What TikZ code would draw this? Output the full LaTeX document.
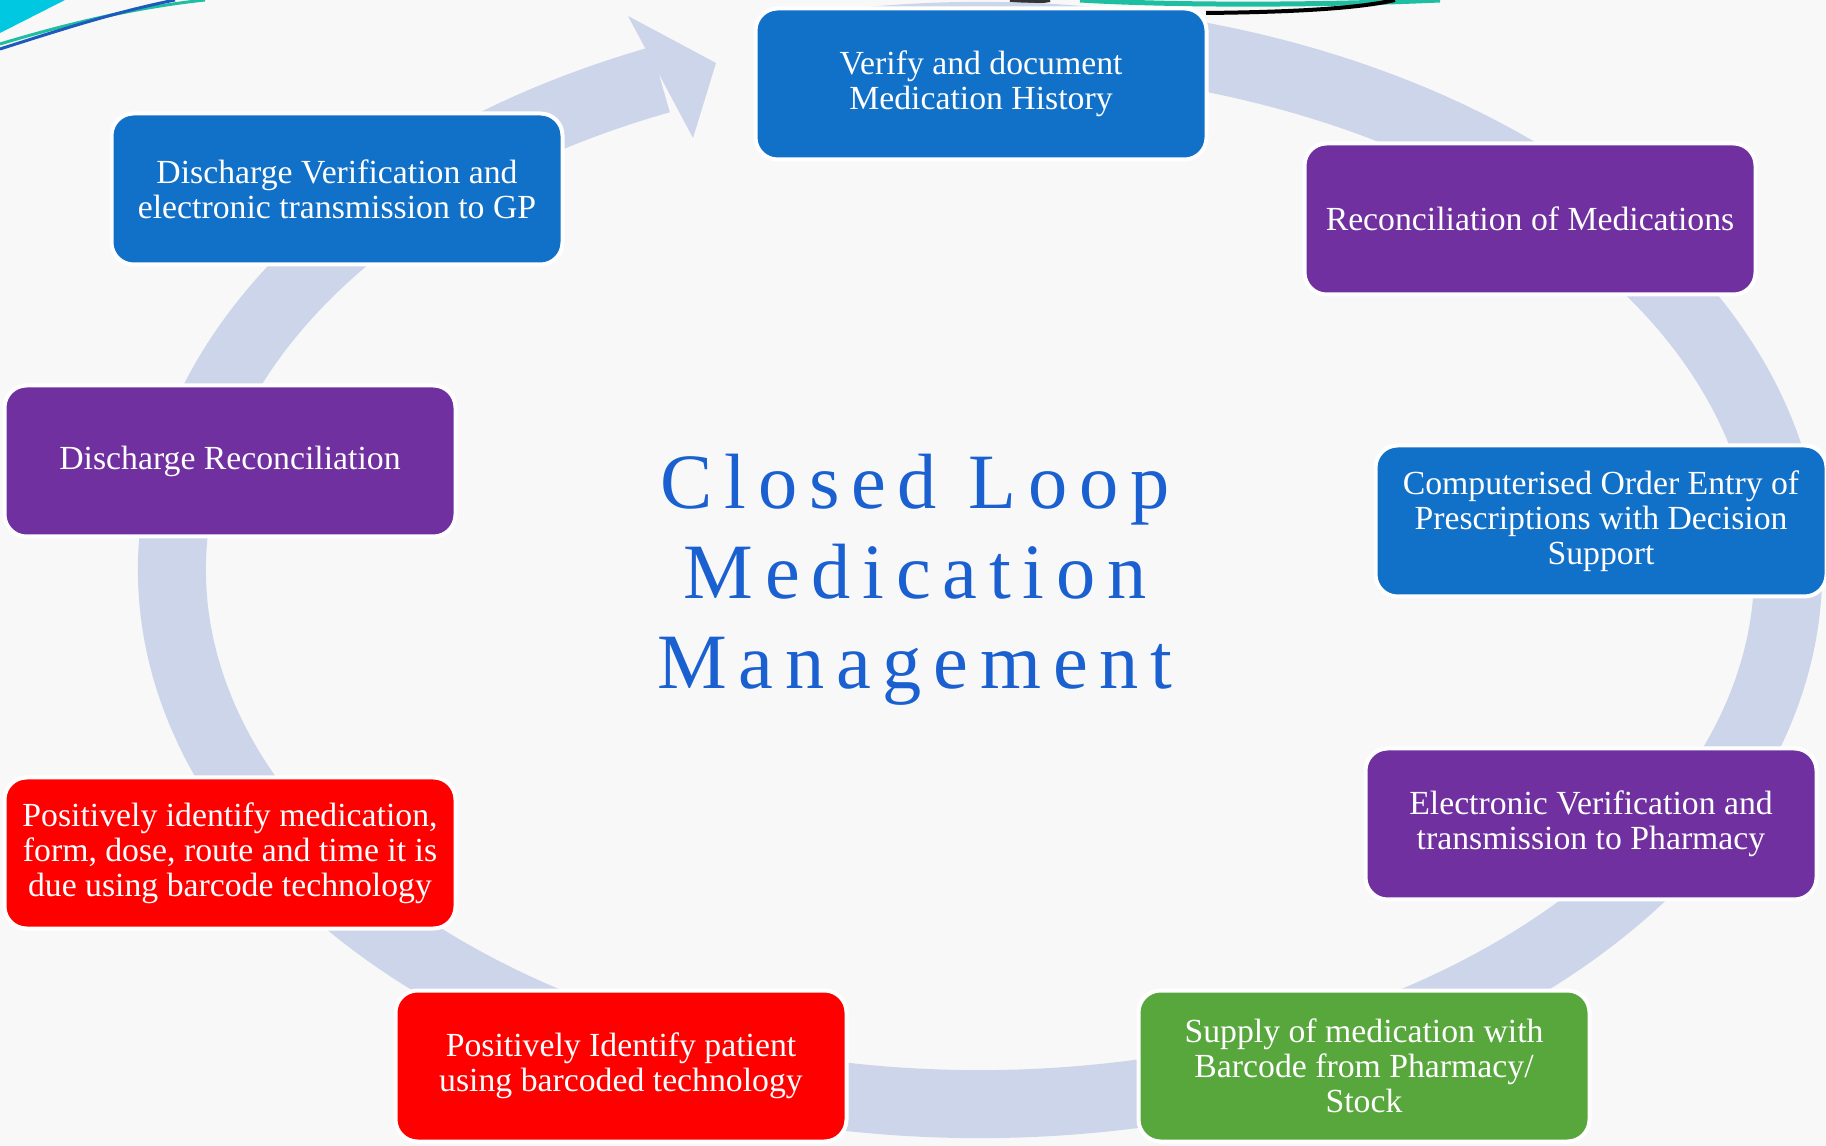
\documentclass[tikz,border=0pt]{standalone}
\usepackage{fontspec}
\setmainfont{Liberation Serif}
\newfontfamily\titlefont[LetterSpace=15]{Liberation Serif}
\usepackage{tikz}

\definecolor{paper}{RGB}{248,248,248}
\definecolor{ringblue}{RGB}{204,213,233}
\definecolor{boxblue}{RGB}{17,112,199}
\definecolor{boxpurple}{RGB}{112,48,160}
\definecolor{boxred}{RGB}{255,0,0}
\definecolor{boxgreen}{RGB}{88,167,60}
\definecolor{titleblue}{RGB}{26,96,208}
\definecolor{swooshteal}{RGB}{30,190,160}
\definecolor{swooshblue}{RGB}{30,90,190}
\definecolor{cornercyan}{RGB}{0,200,225}

\tikzstyle{stepbox} = [
    rectangle,
    rounded corners=2.2mm,
    minimum width=45.1mm,
    minimum height=15.1mm,
    align=center,
    draw=white,
    line width=0.4mm,
    text=white,
    font=\fontsize{9.6}{10}\selectfont
]
\tikzstyle{bluebox} = [stepbox, fill=boxblue]
\tikzstyle{purplebox} = [stepbox, fill=boxpurple]
\tikzstyle{redbox} = [stepbox, fill=boxred]
\tikzstyle{greenbox} = [stepbox, fill=boxgreen]
\tikzstyle{ring} = [
    draw=ringblue,
    line width=6.8mm
]
\tikzstyle{headline} = [
    align=center,
    text=titleblue,
    font=\titlefont\fontsize{22.3}{25.6}\selectfont
]

\begin{document}
\begin{tikzpicture}[x=0.1mm, y=-0.1mm]
        \fill[paper] (0,0) rectangle (1826,1146);
        \useasboundingbox (0,0) rectangle (1826,1146);

        % slide decoration
        \fill[cornercyan] (0,0) -- (65,0) -- (0,33) -- cycle;
        \draw[swooshteal, line width=0.3mm] (0,44) .. controls (60,26) and (130,8) .. (205,0);
        \draw[swooshblue, line width=0.3mm] (0,49) .. controls (60,30) and (115,12) .. (175,0);
        \draw[swooshteal, line width=0.5mm] (1080,0) .. controls (1180,6) and (1330,5) .. (1440,0);
        \draw[black, line width=0.4mm] (1206,13) .. controls (1300,12) and (1360,8) .. (1395,0);
        \draw[black!80, line width=0.4mm] (1010,0) .. controls (1025,2) and (1040,2) .. (1050,0);

        % the loop
        \draw[ring] (980,570) ++(256:808 and 534)
            arc[start angle=256, end angle=606.7, x radius=808, y radius=534];
        \fill[ringblue] (628,16) -- (716,63) -- (693,138) -- cycle;

        \node (title) [headline] at (915,580) {Closed Loop\\Medication\\Management};

        \node (verify) [bluebox] at (981,84) {Verify and document\\Medication History};
        \node (reconcile) [purplebox] at (1530,219) {Reconciliation of Medications};
        \node (cpoe) [bluebox] at (1601,521) {Computerised Order Entry of\\Prescriptions with Decision\\Support};
        \node (everify) [purplebox] at (1591,824) {Electronic Verification and\\transmission to Pharmacy};
        \node (supply) [greenbox] at (1364,1066) {Supply of medication with\\Barcode from Pharmacy/\\Stock};
        \node (patient) [redbox] at (621,1066) {Positively Identify patient\\using barcoded technology};
        \node (medid) [redbox] at (230,853) {Positively identify medication,\\form, dose, route and time it is\\due using barcode technology};
        \node (dischrec) [purplebox] at (230,461) {Discharge Reconciliation};
        \node (dischver) [bluebox] at (337,189) {Discharge Verification and\\electronic transmission to GP};
    \end{tikzpicture}
\end{document}
